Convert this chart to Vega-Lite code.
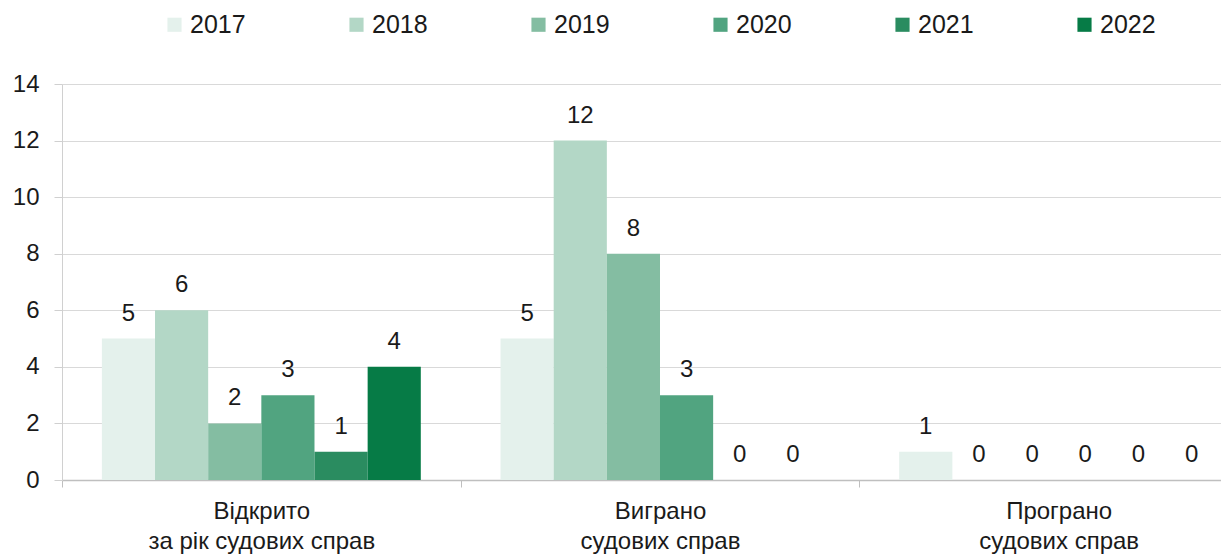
{
  "$schema": "https://vega.github.io/schema/vega-lite/v6.json",
  "width": 1159,
  "height": 396,
  "autosize": {"type": "none"},
  "padding": {"left": 62, "top": 84, "right": 0, "bottom": 74},
  "background": "white",
  "config": {
    "view": {"stroke": null},
    "font": "Liberation Sans",
    "text": {"font": "Liberation Sans"}
  },
  "data": {
    "values": [
      {"cat": "Відкрито|за рік судових справ", "year": "2017", "v": 5},
      {"cat": "Відкрито|за рік судових справ", "year": "2018", "v": 6},
      {"cat": "Відкрито|за рік судових справ", "year": "2019", "v": 2},
      {"cat": "Відкрито|за рік судових справ", "year": "2020", "v": 3},
      {"cat": "Відкрито|за рік судових справ", "year": "2021", "v": 1},
      {"cat": "Відкрито|за рік судових справ", "year": "2022", "v": 4},
      {"cat": "Виграно|судових справ", "year": "2017", "v": 5},
      {"cat": "Виграно|судових справ", "year": "2018", "v": 12},
      {"cat": "Виграно|судових справ", "year": "2019", "v": 8},
      {"cat": "Виграно|судових справ", "year": "2020", "v": 3},
      {"cat": "Виграно|судових справ", "year": "2021", "v": 0},
      {"cat": "Виграно|судових справ", "year": "2022", "v": 0},
      {"cat": "Програно|судових справ", "year": "2017", "v": 1},
      {"cat": "Програно|судових справ", "year": "2018", "v": 0},
      {"cat": "Програно|судових справ", "year": "2019", "v": 0},
      {"cat": "Програно|судових справ", "year": "2020", "v": 0},
      {"cat": "Програно|судових справ", "year": "2021", "v": 0},
      {"cat": "Програно|судових справ", "year": "2022", "v": 0}
    ]
  },
  "encoding": {
    "x": {
      "field": "cat",
      "type": "nominal",
      "sort": null,
      "scale": {"range": [0, 1196], "paddingInner": 0, "paddingOuter": 0},
      "axis": {
        "title": null,
        "labelAngle": 0,
        "labelExpr": "split(datum.label, '|')",
        "labelFontSize": 24,
        "labelColor": "#1a1a1a",
        "labelLineHeight": 30,
        "labelPadding": 12,
        "labelBaseline": "top",
        "labelLimit": 0,
        "tickBand": "extent",
        "tickColor": "#bfbfbf",
        "tickSize": 7,
        "domainColor": "#bfbfbf",
        "domainWidth": 1.5,
        "grid": false
      }
    },
    "xOffset": {
      "field": "year",
      "type": "nominal",
      "sort": null,
      "scale": {"paddingOuter": 0.75, "paddingInner": 0}
    },
    "y": {
      "field": "v",
      "type": "quantitative",
      "scale": {"domain": [0, 14]},
      "axis": {
        "title": null,
        "values": [0, 2, 4, 6, 8, 10, 12, 14],
        "labelFontSize": 24,
        "labelColor": "#1a1a1a",
        "labelPadding": 15,
        "tickSize": 8,
        "tickColor": "#d0d0d0",
        "domainColor": "#d0d0d0",
        "gridColor": "#d9d9d9",
        "gridWidth": 1.2
      }
    }
  },
  "layer": [
    {
      "mark": {"type": "bar"},
      "encoding": {
        "color": {
          "field": "year",
          "type": "nominal",
          "scale": {
            "domain": ["2017", "2018", "2019", "2020", "2021", "2022"],
            "range": ["#e4f1ec", "#b3d7c6", "#84bda2", "#51a480", "#2a8c60", "#067b46"]
          },
          "legend": {
            "title": null,
            "orient": "none",
            "direction": "horizontal",
            "legendX": 100,
            "legendY": -72,
            "symbolType": "square",
            "symbolSize": 200,
            "symbolStrokeWidth": 0,
            "labelFontSize": 25,
            "labelColor": "#1a1a1a",
            "labelOffset": 3,
            "columnPadding": 98
          }
        }
      }
    },
    {
      "mark": {"type": "text", "fontSize": 24, "color": "#1a1a1a", "baseline": "alphabetic", "dy": -18},
      "encoding": {"text": {"field": "v", "type": "quantitative"}}
    }
  ]
}
